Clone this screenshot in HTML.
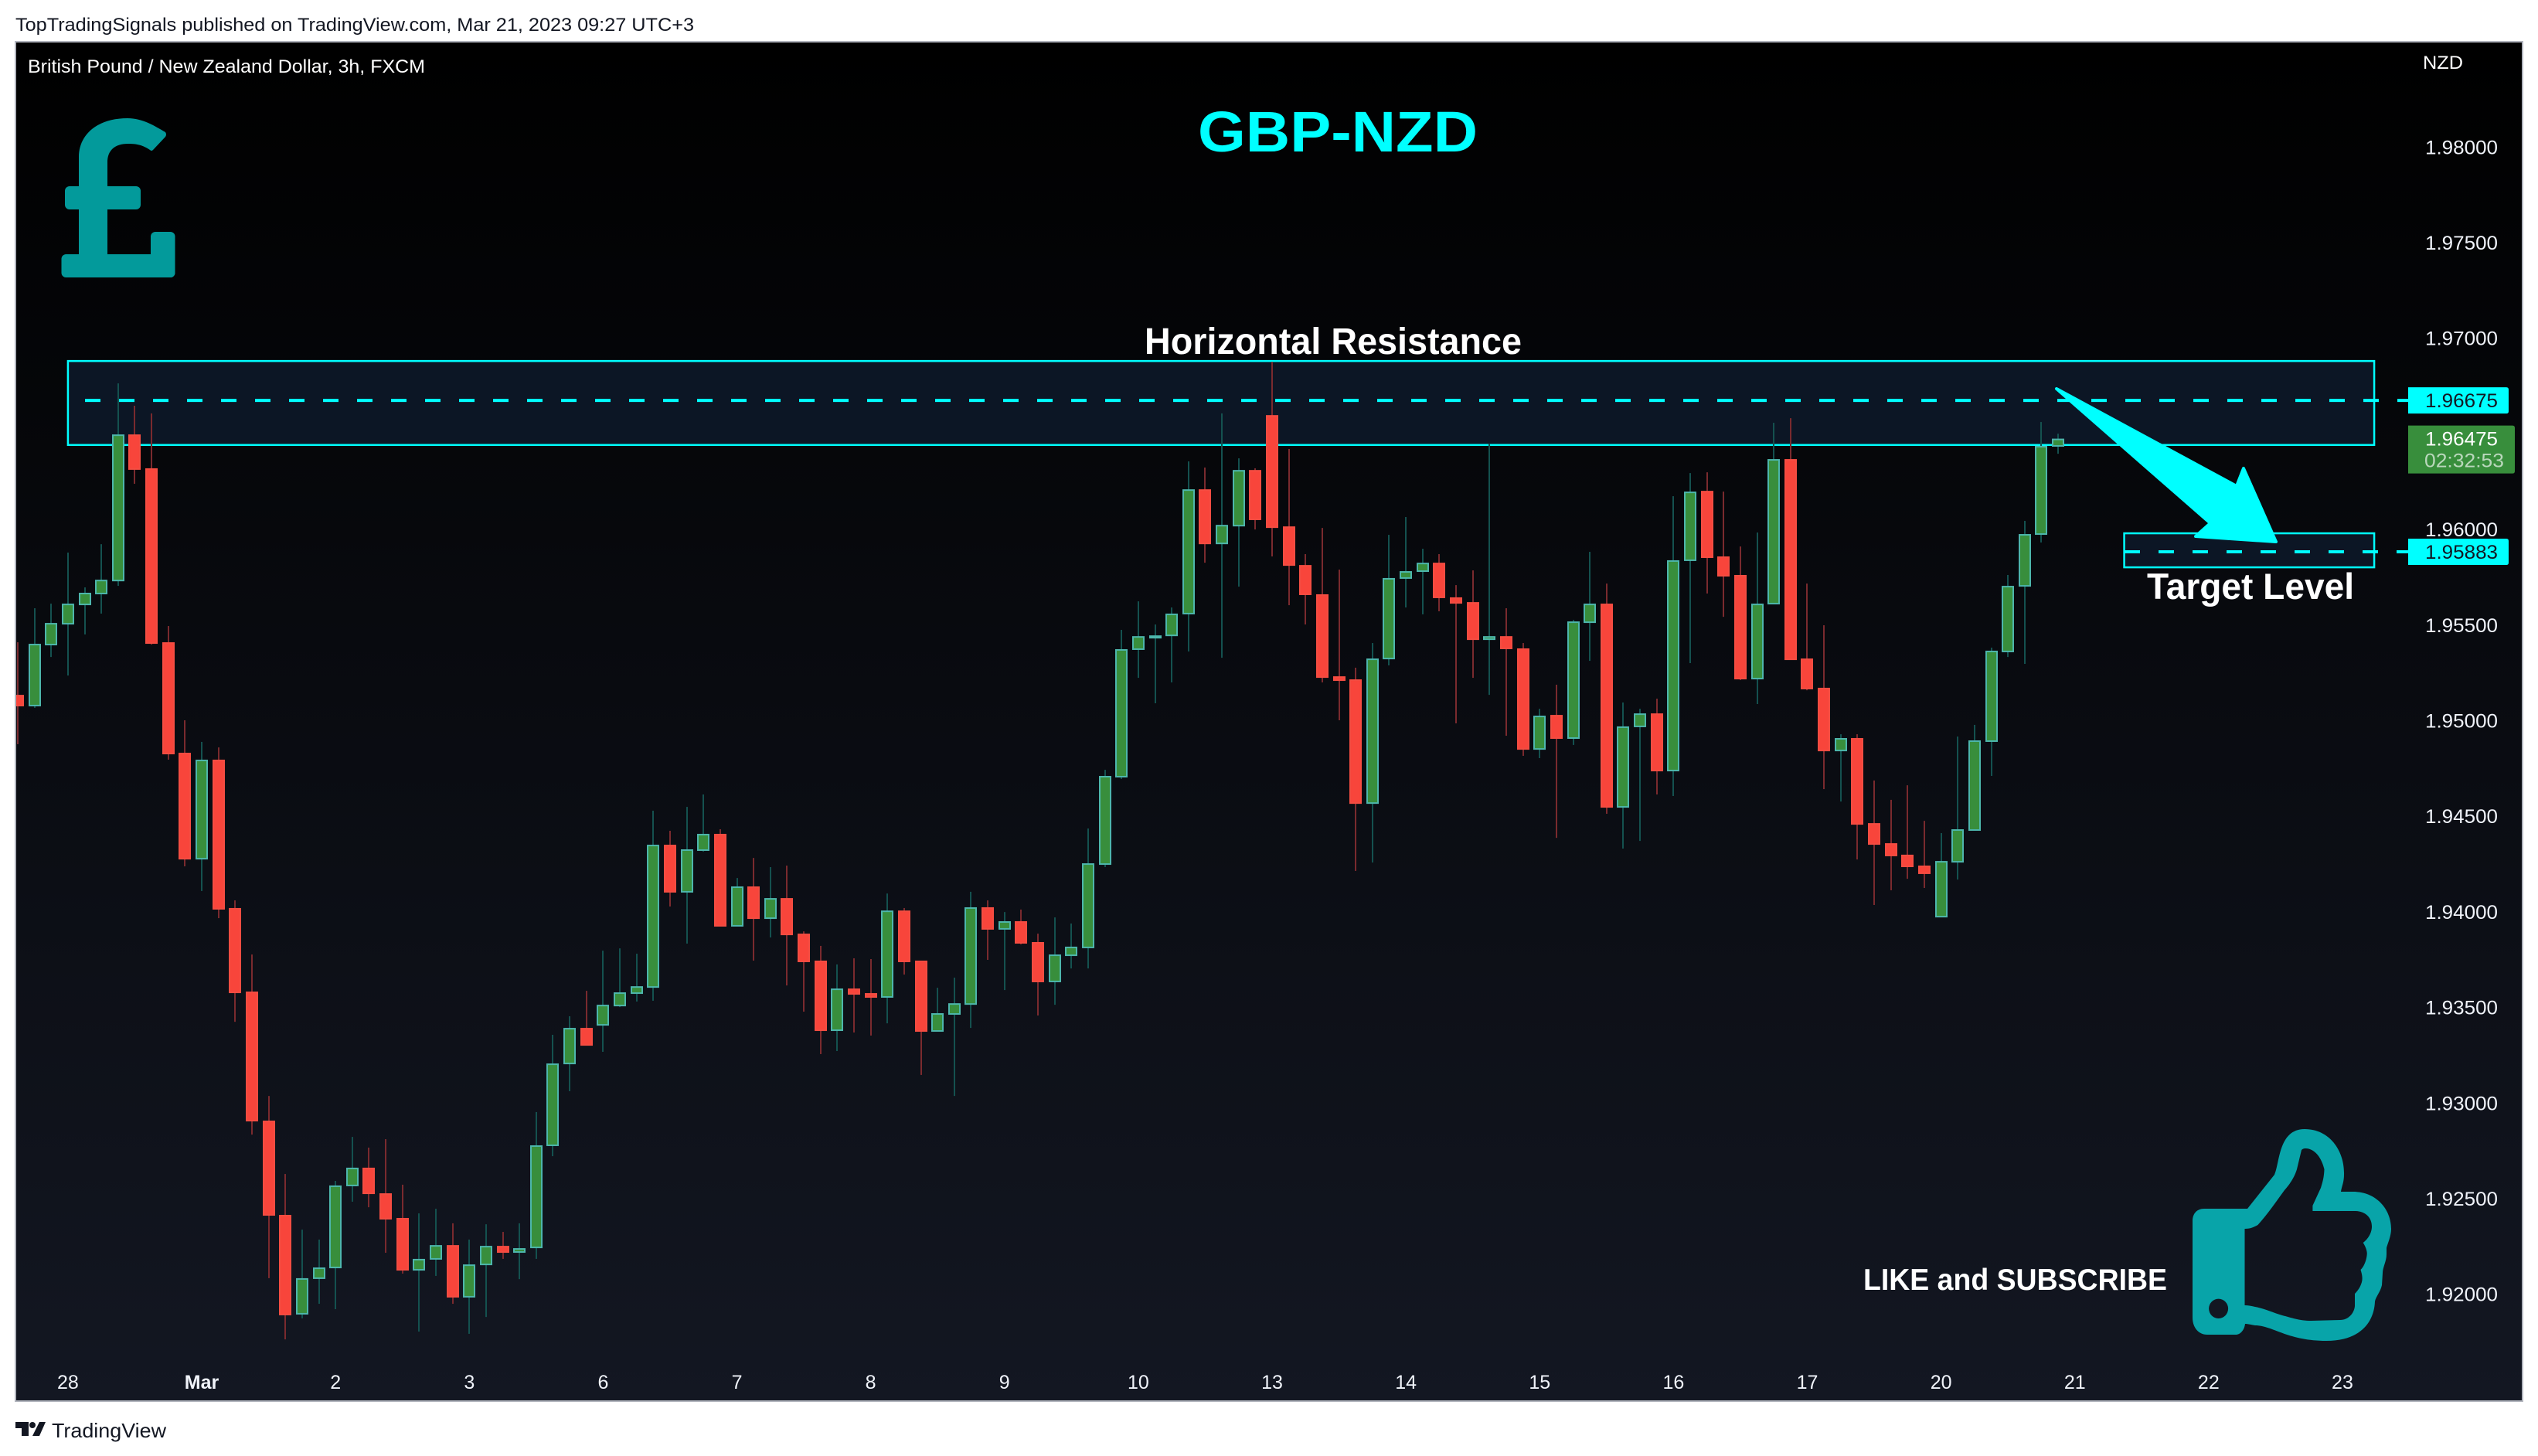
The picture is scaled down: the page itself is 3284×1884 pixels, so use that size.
<!DOCTYPE html>
<html lang="en">
<head>
<meta charset="utf-8">
<title>GBP-NZD chart</title>
<style>
html,body{margin:0;padding:0;background:#fff;width:3284px;height:1884px;overflow:hidden}
svg{display:block}
text{font-family:"Liberation Sans",sans-serif}
</style>
</head>
<body>
<svg id="chart" xmlns="http://www.w3.org/2000/svg" width="3284" height="1884" viewBox="0 0 3284 1884">
  <defs>
    <linearGradient id="bgGrad" x1="0" y1="0" x2="0" y2="1">
      <stop offset="0" stop-color="#000000"/>
      <stop offset="1" stop-color="#131722"/>
    </linearGradient>
    <clipPath id="paneClip"><rect x="21" y="55" width="3242" height="1757"/></clipPath>
  </defs>
  <text x="20" y="40" font-size="24" fill="#131722" textLength="878" lengthAdjust="spacingAndGlyphs">TopTradingSignals published on TradingView.com, Mar 21, 2023 09:27 UTC+3</text>
  <rect x="20" y="54" width="3244" height="1759" fill="url(#bgGrad)" stroke="#b2b5be" stroke-width="2"/>
  <g id="levels" clip-path="url(#paneClip)"></g>
  <g id="candles" clip-path="url(#paneClip)"></g>
  <g id="axes"></g>

  <text x="36" y="94" font-size="24" fill="#ffffff" textLength="514" lengthAdjust="spacingAndGlyphs">British Pound / New Zealand Dollar, 3h, FXCM</text>
  <text x="3135" y="89" font-size="24" fill="#ffffff" textLength="52" lengthAdjust="spacingAndGlyphs">NZD</text>
  <text x="1550" y="196" font-size="74" font-weight="700" fill="#00ffff" textLength="362" lengthAdjust="spacingAndGlyphs">GBP-NZD</text>
  <text x="1481" y="458" font-size="48" font-weight="700" fill="#ffffff" textLength="488" lengthAdjust="spacingAndGlyphs">Horizontal Resistance</text>
  <text x="2778" y="775" font-size="47" font-weight="700" fill="#ffffff" textLength="268" lengthAdjust="spacingAndGlyphs">Target Level</text>
  <text x="2411" y="1669" font-size="39" font-weight="700" fill="#ffffff" textLength="393" lengthAdjust="spacingAndGlyphs">LIKE and SUBSCRIBE</text>

  <g fill="#039a9b">
    <path d="M102,335 L102,203 C102,175 125,153 165,153 C185,153 200,163 214,171 Q216,174 214,177 L198,194 Q196,196 194,194 C185,188 178,186 166,186 C148,186 139,195 139,210 L139,335 Z"/>
    <rect x="84" y="241" width="98" height="30" rx="6"/>
    <rect x="79.5" y="329" width="147" height="30" rx="6"/>
    <rect x="195" y="300" width="31.5" height="59" rx="6"/>
  </g>

  <path fill="#08a4a9" fill-rule="evenodd" d="M2837,1580 C2837,1570 2843,1564 2852,1564 L2908,1564 L2943,1520 C2950,1505 2948,1461 2982,1461 C3015,1461 3034,1490 3033,1520 C3033,1530 3030,1535 3029,1542 L3045,1542 C3075,1542 3094,1565 3094,1590 C3094,1600 3089,1610 3088,1615 L3088,1623 C3088,1632 3083,1640 3083,1647 L3082,1663 C3080,1672 3074,1678 3073,1684 C3072,1710 3055,1735 3010,1735 C2960,1735 2940,1715 2918,1715 C2912,1714 2908,1713 2905,1713 C2904,1722 2898,1727 2893,1727 L2856,1727 C2845,1727 2837,1718 2837,1705 Z
  M2904.5,1590 C2912,1590 2916,1588 2921.5,1585 C2935,1570 2945,1555 2956,1540 C2965,1530 2970,1520 2972,1513 L2978,1488 Q2980,1486 2983,1486 C2995,1486 3004,1498 3007.5,1513 C3007,1525 3005,1530 3003,1537 L2992.4,1560 L2992.4,1567 L3047,1567 C3060,1567 3069,1575 3069,1587 C3069,1597 3062,1605 3057.7,1608 C3062,1615 3063,1620 3062.7,1623 C3062,1632 3058,1640 3054.5,1643 C3056,1648 3057,1652 3056.4,1657 C3055,1665 3050,1671 3047,1674 L3047,1690 C3046,1700 3038,1708 3028,1708 L2990.5,1709 C2975,1709 2965,1705 2953,1702 C2940,1698 2930,1693 2918,1691 Q2910,1689 2904.5,1689 Z"/>
  <ellipse cx="2870.6" cy="1693.3" rx="12.5" ry="12.7" fill="#131722"/>

  <g>
    <path d="M20,1840 h17 v18 h-9 v-10 h-8 Z" fill="#131722"/>
    <circle cx="42" cy="1844" r="4" fill="#131722"/>
    <path d="M51,1840 h8 l-8,18 h-9 Z" fill="#131722"/>
    <text x="67" y="1860" font-size="26" fill="#131722" textLength="148" lengthAdjust="spacingAndGlyphs">TradingView</text>
  </g>

  <path d="M2661,503 L2894,629 L2903,606 L2945,701 L2841,694 L2860,677 Z" fill="#00ffff" stroke="#00ffff" stroke-width="4" stroke-linejoin="round"/>
  <g id="labels"></g>
</svg>
<script>
var opens = [
1.95135,1.95079,1.95398,1.95507,1.95608,1.95665,1.95733,1.96497,1.96320,1.95410,
1.94832,1.94278,1.94796,1.94020,1.93583,1.92908,1.92415,1.91898,1.92084,1.92140,
1.92569,1.92662,1.92528,1.92399,1.92128,1.92185,1.92257,1.91987,1.92156,1.92253,
1.92221,1.92245,1.92779,1.93207,1.93393,1.93409,1.93510,1.93575,1.93607,1.94351,
1.94105,1.94323,1.94408,1.93927,1.94133,1.93967,1.94072,1.93886,1.93745,1.93381,
1.93599,1.93575,1.93555,1.94007,1.93745,1.93377,1.93466,1.93518,1.94024,1.93911,
1.93951,1.93842,1.93636,1.93773,1.93814,1.94250,1.94707,1.95374,1.95442,1.95446,
1.95560,1.96210,1.95927,1.96020,1.96311,1.96598,1.96016,1.95814,1.95661,1.95232,
1.95216,1.94569,1.95325,1.95746,1.95782,1.95826,1.95645,1.95620,1.95426,1.95442,
1.95378,1.94852,1.95030,1.94909,1.95515,1.95612,1.94549,1.94970,1.95038,1.94739,
1.95839,1.96202,1.95859,1.95762,1.95220,1.95612,1.96368,1.95325,1.95172,1.94844,
1.94909,1.94464,1.94359,1.94299,1.94242,1.93975,1.94262,1.94428,1.94893,1.95362,
1.95705,1.95976,1.96437];
var highs = [
1.95410,1.95588,1.95612,1.95879,1.95697,1.95923,1.96764,1.96647,1.96607,1.95495,
1.95002,1.94889,1.94860,1.94060,1.93777,1.93037,1.92629,1.92338,1.92286,1.92593,
1.92823,1.92767,1.92811,1.92573,1.92423,1.92447,1.92371,1.92286,1.92366,1.92326,
1.92371,1.92953,1.93357,1.93454,1.93587,1.93797,1.93809,1.93781,1.94529,1.94424,
1.94549,1.94614,1.94432,1.94177,1.94282,1.94234,1.94242,1.93898,1.93822,1.93725,
1.93757,1.93753,1.94096,1.94020,1.93745,1.93603,1.93656,1.94105,1.94060,1.93999,
1.94012,1.93886,1.93971,1.93939,1.94436,1.94743,1.95475,1.95624,1.95503,1.95592,
1.96356,1.96324,1.96607,1.96372,1.96320,1.96877,1.96421,1.95871,1.96008,1.95790,
1.95277,1.95406,1.95972,1.96065,1.95899,1.95871,1.95709,1.95786,1.96449,1.95588,
1.95406,1.95062,1.95188,1.95527,1.95883,1.95717,1.95095,1.95062,1.95115,1.96174,
1.96295,1.96299,1.96198,1.95911,1.95984,1.96558,1.96582,1.95717,1.95499,1.94929,
1.94929,1.94687,1.94586,1.94662,1.94476,1.94412,1.94917,1.94978,1.95382,1.95762,
1.96045,1.96562,1.96501];
var lows = [
1.94877,1.95067,1.95333,1.95236,1.95451,1.95560,1.95705,1.96239,1.95398,1.94796,
1.94238,1.94109,1.93967,1.93425,1.92835,1.92084,1.91764,1.91874,1.91950,1.91922,
1.92484,1.92455,1.92217,1.92108,1.91805,1.92096,1.91950,1.91793,1.91881,1.92185,
1.92079,1.92185,1.92722,1.93062,1.93304,1.93268,1.93502,1.93531,1.93535,1.94028,
1.93834,1.94315,1.93927,1.93927,1.93745,1.93866,1.93615,1.93478,1.93256,1.93272,
1.93369,1.93353,1.93417,1.93672,1.93147,1.93377,1.93037,1.93393,1.93749,1.93591,
1.93830,1.93458,1.93514,1.93704,1.93704,1.94234,1.94695,1.95224,1.95091,1.95200,
1.95362,1.95826,1.95329,1.95701,1.96000,1.95859,1.95604,1.95503,1.95200,1.95002,
1.94214,1.94258,1.95289,1.95592,1.95556,1.95572,1.94986,1.95224,1.95135,1.94921,
1.94816,1.94804,1.94387,1.94873,1.95313,1.94513,1.94331,1.94371,1.94614,1.94606,
1.95301,1.95665,1.95543,1.95212,1.95087,1.95612,1.95321,1.95159,1.94642,1.94577,
1.94274,1.94036,1.94113,1.94173,1.94125,1.93975,1.94169,1.94428,1.94711,1.95333,
1.95297,1.95932,1.96396];
var closes = [
1.95079,1.95402,1.95511,1.95612,1.95669,1.95737,1.96497,1.96316,1.95406,1.94828,
1.94278,1.94796,1.94016,1.93579,1.92908,1.92415,1.91894,1.92084,1.92140,1.92569,
1.92662,1.92528,1.92395,1.92128,1.92185,1.92257,1.91987,1.92156,1.92253,1.92221,
1.92241,1.92779,1.93207,1.93393,1.93304,1.93514,1.93579,1.93611,1.94351,1.94105,
1.94327,1.94408,1.93927,1.94133,1.93967,1.94072,1.93882,1.93741,1.93381,1.93599,
1.93571,1.93555,1.94007,1.93741,1.93377,1.93470,1.93522,1.94024,1.93911,1.93951,
1.93838,1.93636,1.93777,1.93818,1.94254,1.94711,1.95374,1.95442,1.95446,1.95560,
1.96210,1.95927,1.96024,1.96311,1.96053,1.96012,1.95814,1.95661,1.95228,1.95212,
1.94569,1.95325,1.95746,1.95782,1.95826,1.95645,1.95616,1.95426,1.95442,1.95378,
1.94852,1.95026,1.94909,1.95519,1.95612,1.94549,1.94970,1.95038,1.94739,1.95839,
1.96198,1.95855,1.95758,1.95220,1.95612,1.96368,1.95321,1.95168,1.94844,1.94909,
1.94460,1.94355,1.94295,1.94238,1.94202,1.94266,1.94432,1.94897,1.95366,1.95705,
1.95976,1.96437,1.96475];
var priceTicks = [1.98,1.975,1.97,1.965,1.96,1.955,1.95,1.945,1.94,1.935,1.93,1.925,1.92];
var priceTickLabels = ["1.98000","1.97500","1.97000","","1.96000","1.95500","1.95000","1.94500","1.94000","1.93500","1.93000","1.92500","1.92000"];
var timeTickBars = [3,11,19,27,35,43,51,59,67,75,83,91,99,107,115,123,131,139];
var timeTickLabels = ["28","Mar","2","3","6","7","8","9","10","13","14","15","16","17","20","21","22","23"];
var resistanceLevel = 1.96675;
var targetLevel = 1.95883;
var lastPrice = 1.96475;
var countdownText = "02:32:53";
var resistanceZone = [1.96881, 1.96442];
var targetZone = [1.95980, 1.95802];
var resistanceZoneBars = [3, 140.9];
var targetZoneBars = [125.95, 140.9];

function yScale(p){ return 1674.7 - (p - 1.92) * 24740; }
function xScale(i){ return 23 + i * 21.64; }

var NS = "http://www.w3.org/2000/svg";
function make(parent, tag, attrs, txt){
  var el = document.createElementNS(NS, tag);
  for (var k in attrs) el.setAttribute(k, attrs[k]);
  if (txt !== undefined) el.textContent = txt;
  parent.appendChild(el);
  return el;
}

var levels = document.getElementById("levels");
var candles = document.getElementById("candles");
var axes = document.getElementById("axes");
var labels = document.getElementById("labels");

function drawZone(zone, bars, name){
  var top = yScale(zone[0]), bottom = yScale(zone[1]);
  var left = xScale(bars[0]), right = xScale(bars[1]);
  var r = make(levels, "rect", {x:left, y:top, width:right-left, height:bottom-top, fill:"#0c1625", stroke:"#00ffff", "stroke-width":"2.5"});
  
  
}
drawZone(resistanceZone, resistanceZoneBars, 'resistance-zone');
drawZone(targetZone, targetZoneBars, 'target-zone');

function drawLevel(price, startX, name){
  var y = yScale(price);
  var l = make(levels, "line", {x1:startX, x2:3116, y1:y, y2:y, stroke:"#00ffff", "stroke-width":"4", "stroke-dasharray":"20 24"});
  
  
}
drawLevel(resistanceLevel, 110, 'resistance-level-line');
drawLevel(targetLevel, 2749, 'target-level-line');

for (var i = 0; i < opens.length; i++){
  var up = closes[i] >= opens[i];
  var x = Math.round(xScale(i));
  var yH = yScale(highs[i]), yL = yScale(lows[i]);
  var bodyTop = yScale(Math.max(opens[i], closes[i]));
  var bodyBot = yScale(Math.min(opens[i], closes[i]));
  var h = Math.max(bodyBot - bodyTop, 3);
  var g = make(candles, "g", {});
  
  
  make(g, "rect", {x:x-1, y:yH, width:2, height:yL-yH, fill: up ? "#14514f" : "#7a2a2e"});
  make(g, "rect", {x:x-7, y:bodyTop+1, width:14, height:h-1, fill: up ? "#388e3c" : "#f8453b", stroke: up ? "#4db6ac" : "#f44d42", "stroke-width":"2"});
}

for (var t = 0; t < priceTicks.length; t++){
  if (!priceTickLabels[t]) continue;
  var pt = make(axes, "text", {x:3138, y:yScale(priceTicks[t])+9, "font-size":"25", fill:"#f0f3fa", textLength:"94", lengthAdjust:"spacingAndGlyphs"}, priceTickLabels[t]);
  
  
}

for (var d = 0; d < timeTickBars.length; d++){
  var isMonth = timeTickLabels[d] === "Mar";
  var tt = make(axes, "text", {x:xScale(timeTickBars[d]), y:1797, "font-size":"25", fill:"#f0f3fa", "text-anchor":"middle", "font-weight": isMonth ? "700" : "400"}, timeTickLabels[d]);
  
  
}

function drawPriceTag(price, name){
  var y = yScale(price);
  var tag = make(labels, "path", {d:"M3116," + (y-17) + " h127 q3,0 3,3 v28 q0,3 -3,3 h-127 Z", fill:"#00ffff"});
  
  
  var txt = make(labels, "text", {x:3138, y:y+9, "font-size":"25", fill:"#131722", textLength:"94", lengthAdjust:"spacingAndGlyphs"}, price.toFixed(5));
  
  
}
drawPriceTag(resistanceLevel, 'resistance-price');
drawPriceTag(targetLevel, 'target-price');

var lastY = yScale(lastPrice);
var lastTag = make(labels, "path", {d:"M3116," + (lastY-17) + " h135 q3,0 3,3 v56 q0,3 -3,3 h-135 Z", fill:"#388e3c"});


var lastTxt = make(labels, "text", {x:3138, y:lastY+9, "font-size":"25", fill:"#ffffff", textLength:"94", lengthAdjust:"spacingAndGlyphs"}, lastPrice.toFixed(5));


var cdTxt = make(labels, "text", {x:3137, y:lastY+37, "font-size":"25", fill:"#ffffff", "fill-opacity":"0.65", textLength:"103", lengthAdjust:"spacingAndGlyphs"}, countdownText);


</script>
</body>
</html>
